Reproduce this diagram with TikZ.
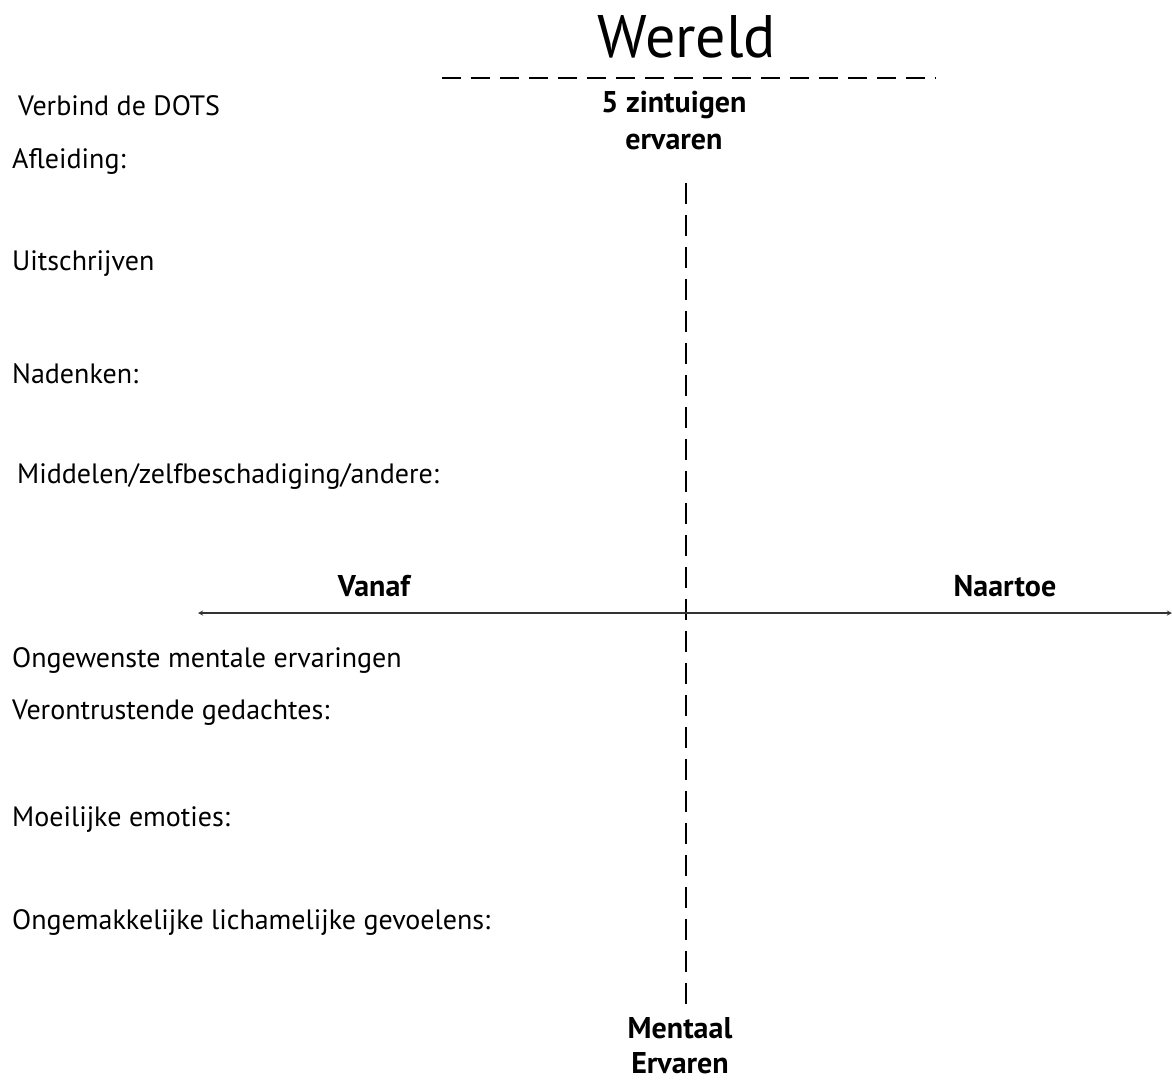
\documentclass[tikz,border=0pt]{standalone}
\usepackage{fontspec}
\setmainfont{PT Sans}
\begin{document}
\begin{tikzpicture}[x=1pt, y=-1pt,
    lbl/.style={anchor=west, inner sep=0pt, font=\fontsize{28}{32}\selectfont},
    head/.style={inner sep=0pt, align=center, font=\fontsize{30}{37}\selectfont\bfseries}]
    % Canvas
    \useasboundingbox[fill=white] (0,0) rectangle (1172,1088);

    % Title and world line
    \node[inner sep=0pt, font=\fontsize{60}{66}\selectfont] (wereld) at (687,37) {Wereld};
    \coordinate (wl) at (442,78);
    \coordinate (wr) at (936,78);
    \draw[line width=2pt, dash pattern=on 19pt off 10pt] (wl) -- (wr);

    % Axis labels
    \node[head] (zintuig) at (674,121) {5 zintuigen\\ervaren};
    \node[head, font=\fontsize{30}{35}\selectfont\bfseries] (mentaal) at (680,1046) {Mentaal\\Ervaren};
    \node[head] (vanaf) at (374,586) {Vanaf};
    \node[head] (naartoe) at (1005,586) {Naartoe};

    % Axes
    \coordinate (top) at (686,183);
    \coordinate (bot) at (686,1006);
    \coordinate (left) at (198,613);
    \coordinate (right) at (1172,613);
    \draw[line width=2.6pt, dash pattern=on 21pt off 11pt] (top) -- (bot);
    \draw[<->, >=stealth, line width=1.3pt, black!80] (left) -- (right);

    % Left column
    \node[lbl] (dots) at (18,106) {Verbind de DOTS};
    \node[lbl] (afl) at (12,161) {Afleiding:};
    \node[lbl] (uit) at (12,264) {Uitschrijven};
    \node[lbl] (nad) at (12,374) {Nadenken:};
    \node[lbl] (mid) at (17,476) {Middelen/zelfbeschadiging/andere:};
    \node[lbl] (onge) at (12,660) {Ongewenste mentale ervaringen};
    \node[lbl] (veront) at (12,713) {Verontrustende gedachtes:};
    \node[lbl] (emo) at (12,820) {Moeilijke emoties:};
    \node[lbl] (lich) at (12,922) {Ongemakkelijke lichamelijke gevoelens:};
\end{tikzpicture}
\end{document}
